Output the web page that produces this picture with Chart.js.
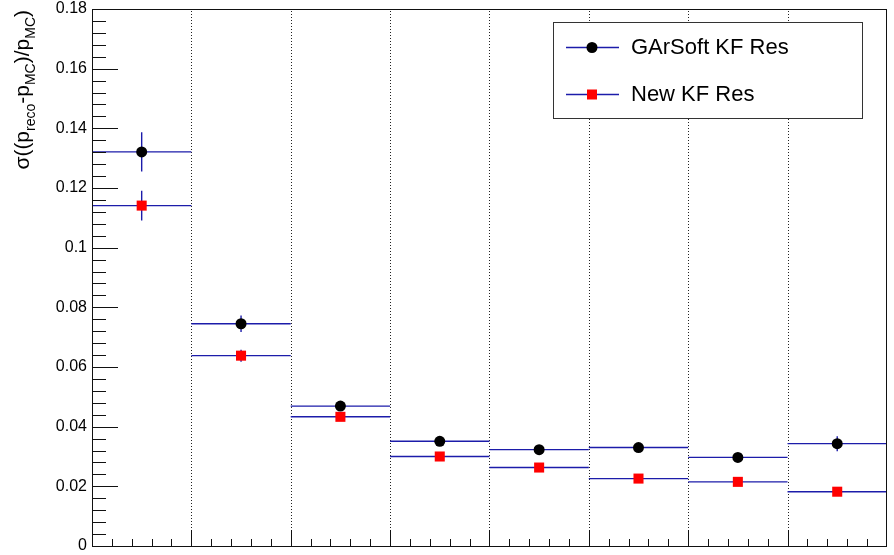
<!DOCTYPE html>
<html><head><meta charset="utf-8">
<script src="https://cdn.jsdelivr.net/npm/chart.js@4"></script>
<style>html,body{margin:0;padding:0;background:#fff}#wrap{width:894px;height:555px}</style>
</head><body><div id="wrap"><canvas id="c" width="894" height="555"></canvas></div>
<script>
// ---- data ----
const binEdges = [0, 1, 2, 3, 4, 5, 6, 7, 8];
const seriesNames = ['GArSoft KF Res', 'New KF Res'];
const garsoftRes = [0.1321, 0.0745, 0.0469, 0.0351, 0.0323, 0.0330, 0.0297, 0.0343];
const garsoftErr = [0.0066, 0.0028, 0.0012, 0.0012, 0.0010, 0.0012, 0.0010, 0.0025];
const newkfRes   = [0.1141, 0.0638, 0.0433, 0.0300, 0.0263, 0.0226, 0.0215, 0.0182];
const newkfErr   = [0.0050, 0.0020, 0.0010, 0.0008, 0.0008, 0.0008, 0.0007, 0.0007];
const yTicks = [0, 0.02, 0.04, 0.06, 0.08, 0.1, 0.12, 0.14, 0.16, 0.18];
const yTickLabels = ['0', '0.02', '0.04', '0.06', '0.08', '0.1', '0.12', '0.14', '0.16', '0.18'];
const yTitleParts = [['σ((p', 0], ['reco', 1], ['-p', 0], ['MC', 1], [')/p', 0], ['MC', 1], [')', 0]];

// ---- helpers ----
const BLUE = 'rgb(28,28,170)';
function hbars(vals) {
  const out = [];
  vals.forEach((v, i) => {
    out.push({x: binEdges[i], y: v}, {x: binEdges[i + 1], y: v}, {x: binEdges[i + 1], y: null});
  });
  return out;
}
function vbars(vals, errs) {
  const out = [];
  vals.forEach((v, i) => {
    const c = (binEdges[i] + binEdges[i + 1]) / 2;
    out.push({x: c, y: v - errs[i]}, {x: c, y: v + errs[i]}, {x: c, y: null});
  });
  return out;
}
function pts(vals) {
  return vals.map((v, i) => ({x: (binEdges[i] + binEdges[i + 1]) / 2, y: v}));
}
const lineDs = (data) => ({type: 'line', data, borderColor: BLUE, borderWidth: 1.4, pointRadius: 0,
  spanGaps: false, fill: false, order: 2, tension: 0});

const FONT = '"Liberation Sans", Arial, Helvetica, sans-serif';

const decor = {
  id: 'decor',
  beforeDatasetsDraw(chart) {
    const {ctx, chartArea: a, scales: {x, y}} = chart;
    ctx.save();
    ctx.strokeStyle = '#222';
    ctx.lineWidth = 1;
    ctx.setLineDash([1, 2]);
    for (let i = 1; i < binEdges.length - 1; i++) {
      const px = Math.round(x.getPixelForValue(binEdges[i])) + 0.5;
      ctx.beginPath(); ctx.moveTo(px, a.bottom); ctx.lineTo(px, a.top); ctx.stroke();
    }
    ctx.restore();
  },
  afterDraw(chart) {
    const {ctx, chartArea: a, scales: {x, y}} = chart;
    ctx.save();
    ctx.strokeStyle = '#111';
    ctx.lineWidth = 1;
    ctx.strokeRect(Math.round(a.left) + 0.5, Math.round(a.top) + 0.5,
      Math.round(a.right - a.left) - 1, Math.round(a.bottom - a.top));
    const ymin = yTicks[0], ymax = yTicks[yTicks.length - 1];
    const step = (yTicks[1] - yTicks[0]) / 5;
    ctx.beginPath();
    for (let k = 0; k <= Math.round((ymax - ymin) / step); k++) {
      const v = ymin + k * step;
      const py = Math.round(y.getPixelForValue(v)) + 0.5;
      const len = (k % 5 === 0) ? 26 : 14;
      ctx.moveTo(a.left, py); ctx.lineTo(a.left + len, py);
    }
    for (let i = 0; i < binEdges.length - 1; i++) {
      for (let s = 0; s < 5; s++) {
        const v = binEdges[i] + s * (binEdges[i + 1] - binEdges[i]) / 5;
        const px = Math.round(x.getPixelForValue(v)) + 0.5;
        const len = s === 0 ? 16 : 7;
        ctx.moveTo(px, a.bottom); ctx.lineTo(px, a.bottom - len);
      }
    }
    ctx.stroke();

    // y axis title (right-aligned to the top of the axis)
    ctx.fillStyle = '#000';
    let total = 0;
    yTitleParts.forEach(([t, sub]) => {
      ctx.font = sub ? '14px ' + FONT : '21px ' + FONT;
      total += ctx.measureText(t).width;
    });
    ctx.translate(29, a.top + 1 + total);
    ctx.rotate(-Math.PI / 2);
    ctx.textBaseline = 'alphabetic';
    let cx = 0;
    yTitleParts.forEach(([t, sub]) => {
      ctx.font = sub ? '14px ' + FONT : '21px ' + FONT;
      ctx.fillText(t, cx, sub ? 6 : 0);
      cx += ctx.measureText(t).width;
    });
    ctx.restore();

    // legend
    ctx.save();
    const L = {x: 553, y: 22, w: 309, h: 96};
    ctx.fillStyle = '#fff';
    ctx.fillRect(L.x, L.y, L.w, L.h);
    ctx.strokeStyle = '#333';
    ctx.lineWidth = 1;
    ctx.strokeRect(L.x + 0.5, L.y + 0.5, L.w, L.h);
    const rows = [47, 94];
    rows.forEach((ry, i) => {
      ctx.strokeStyle = BLUE; ctx.lineWidth = 1.4;
      ctx.beginPath(); ctx.moveTo(566, ry + 0.5); ctx.lineTo(619, ry + 0.5); ctx.stroke();
      if (i === 0) {
        ctx.fillStyle = '#000';
        ctx.beginPath(); ctx.arc(592, ry + 0.5, 5.5, 0, Math.PI * 2); ctx.fill();
      } else {
        ctx.fillStyle = '#ff0000';
        ctx.fillRect(587, ry - 4.5, 10, 10);
      }
      ctx.fillStyle = '#000';
      ctx.font = '22px ' + FONT;
      ctx.textBaseline = 'middle';
      ctx.fillText(seriesNames[i], 631, ry + 1);
    });
    ctx.restore();
  }
};

new Chart(document.getElementById('c'), {
  type: 'scatter',
  data: {
    datasets: [
      lineDs(hbars(garsoftRes)),
      lineDs(hbars(newkfRes)),
      lineDs(vbars(garsoftRes, garsoftErr)),
      lineDs(vbars(newkfRes, newkfErr)),
      {label: seriesNames[0], data: pts(garsoftRes), pointStyle: 'circle', pointRadius: 5.5,
        pointBackgroundColor: '#000', pointBorderColor: '#000', pointBorderWidth: 0, order: 0},
      {label: seriesNames[1], data: pts(newkfRes), pointStyle: 'rect', pointRadius: 7.1,
        pointBackgroundColor: '#ff0000', pointBorderColor: '#ff0000', pointBorderWidth: 0, order: 0}
    ]
  },
  options: {
    responsive: false,
    animation: false,
    devicePixelRatio: 1,
    layout: {padding: {left: 0, right: 3, top: 9, bottom: 9}},
    plugins: {legend: {display: false}, tooltip: {enabled: false}},
    scales: {
      x: {type: 'linear', min: binEdges[0], max: binEdges[binEdges.length - 1], display: false},
      y: {
        type: 'linear', min: yTicks[0], max: yTicks[yTicks.length - 1],
        afterBuildTicks: (s) => { s.ticks = yTicks.map(v => ({value: v})); },
        afterFit: (s) => { s.width = 92; s.paddingTop = 0; s.paddingBottom = 0; },
        grid: {display: false, drawTicks: false},
        border: {display: false},
        ticks: {
          padding: 5, color: '#000',
          font: {family: FONT, size: 16},
          callback: (v, i) => yTickLabels[i]
        }
      }
    }
  },
  plugins: [decor]
});
</script>
</body></html>
